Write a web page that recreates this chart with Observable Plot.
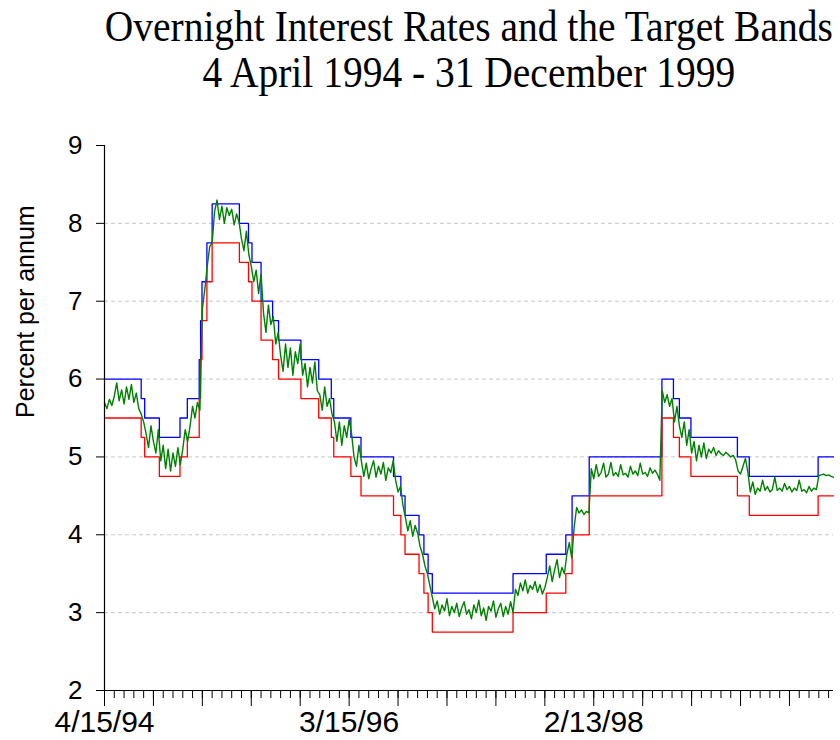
<!DOCTYPE html>
<html><head><meta charset="utf-8">
<script src="https://cdn.jsdelivr.net/npm/d3@7"></script>
<script src="https://cdn.jsdelivr.net/npm/@observablehq/plot@0.6"></script>
<style>
body{margin:0;background:#fff;overflow:hidden;}
#title{position:relative;width:840px;height:130px;overflow:hidden;font-family:"Liberation Serif","Times New Roman",serif;font-size:44px;line-height:46px;color:#000;}
#title .line{position:absolute;left:-131.5px;width:1200px;text-align:center;white-space:nowrap;}
#title .line span{display:inline-block;transform-origin:50% 50%;}
</style></head><body>
<div id="title"></div>
<div id="chart"></div>
<script>
const titleLines = ["Overnight Interest Rates and the Target Bands", "4 April 1994 - 31 December 1999"];
const yLabel = "Percent per annum";

// Target band changes (date the band took effect)
const bandDates = ["1994-04-15","1994-07-29","1994-08-08","1994-09-19","1994-11-17","1994-12-08",
  "1995-01-11","1995-01-15","1995-01-19","1995-02-02","1995-02-17","1995-05-06","1995-06-01",
  "1995-06-11","1995-07-07","1995-08-09","1995-08-26","1995-10-29","1995-12-19","1996-01-24",
  "1996-01-31","1996-03-20","1996-04-18","1996-07-20","1996-08-10","1996-08-22","1996-10-01",
  "1996-10-15","1996-10-27","1996-11-08","1997-06-27","1997-09-30","1997-11-25","1997-12-13",
  "1998-01-31","1998-08-27","1998-09-29","1998-10-16","1998-11-18","1999-03-31","1999-05-04",
  "1999-11-17","1999-12-31"];
const upperBand = [6.00,5.75,5.50,5.25,5.50,5.75,
  6.25,6.75,7.25,7.75,8.25,8.00,7.75,
  7.50,7.00,6.75,6.50,6.25,6.00,5.75,
  5.50,5.25,5.00,4.75,4.50,4.25,4.00,
  3.75,3.50,3.25,3.50,3.75,4.00,4.50,
  5.00,6.00,5.75,5.50,5.25,5.00,4.75,
  5.00,5.00];
const lowerBand = [5.50,5.25,5.00,4.75,5.00,5.25,
  5.75,6.25,6.75,7.25,7.75,7.50,7.25,
  7.00,6.50,6.25,6.00,5.75,5.50,5.25,
  5.00,4.75,4.50,4.25,4.00,3.75,3.50,
  3.25,3.00,2.75,3.00,3.25,3.50,4.00,
  4.50,5.50,5.25,5.00,4.75,4.50,4.25,
  4.50,4.50];

// Overnight rate, weekly readings starting 15 April 1994
const rateStart = "1994-04-15";
const rateStepDays = 7;
const overnightRate = [
  5.70,5.62,5.74,5.66,5.78,5.95,5.72,5.86,5.68,5.90,5.74,5.93,5.70,5.82,5.62,5.55,
  5.45,
  5.30,5.12,5.40,5.20,5.05,5.35,
  4.95,5.15,4.85,5.10,4.82,5.05,4.88,5.12,4.90,
  5.10,5.35,5.20,
  5.40,5.65,5.50,5.70,5.60,
  6.90,7.15,7.45,7.70,7.75,
  8.15,8.30,8.05,8.22,8.00,8.20,8.10,8.18,7.98,8.12,8.02,
  7.80,7.65,7.90,7.60,
  7.45,
  7.25,7.40,7.10,7.35,
  6.85,6.60,6.95,6.70,6.80,
  6.45,6.60,
  6.30,6.10,6.45,6.15,6.40,6.05,6.35,6.20,6.45,
  6.05,6.20,5.90,6.15,5.95,6.22,5.85,
  5.80,5.60,5.90,5.65,5.75,5.55,
  5.45,
  5.20,5.45,5.15,5.40,5.25,5.48,5.30,
  5.00,4.88,5.15,4.95,
  4.75,4.92,4.72,4.85,4.95,4.74,4.88,4.78,4.93,4.70,4.86,4.80,4.95,
  4.70,4.55,4.62,
  4.38,4.22,
  4.05,4.18,3.98,4.12,4.02,
  3.85,3.75,3.60,3.50,3.35,3.20,
  3.05,3.15,2.98,3.10,3.02,3.18,2.96,3.08,3.00,3.12,2.95,3.06,3.14,2.98,3.04,2.92,3.10,
  3.00,3.16,2.96,3.06,2.90,3.08,3.02,3.15,2.94,3.05,3.12,2.95,3.08,2.98,3.14,3.00,
  3.30,3.22,3.38,3.28,3.42,3.25,3.35,3.30,3.40,3.26,3.36,3.24,3.32,
  3.45,3.60,3.40,3.55,3.68,3.45,3.58,3.50,
  3.75,3.90,3.70,
  4.10,4.35,4.28,4.32,4.26,4.30,4.28,
  4.85,4.72,4.90,4.75,4.80,4.92,4.74,4.78,4.93,4.76,4.80,4.75,4.90,4.77,4.79,
  4.74,4.88,4.78,4.82,4.76,4.92,4.78,4.80,4.75,4.86,4.79,4.83,4.78,4.70,
  5.85,5.70,5.80,5.65,5.75,
  5.45,5.65,5.40,
  5.25,5.45,5.15,5.35,
  5.05,5.20,4.95,5.15,5.00,5.18,4.98,5.10,5.05,5.12,5.02,5.08,5.04,5.02,5.06,5.03,5.00,5.02,4.96,
  4.82,4.78,4.88,4.98,4.80,
  4.55,4.68,4.52,4.60,4.56,4.70,4.57,4.62,4.55,4.58,4.74,4.57,4.60,4.56,4.66,4.58,4.62,4.55,
  4.60,4.57,4.70,4.56,4.58,4.54,4.62,4.56,4.60,4.58,
  4.76,4.77,4.78,4.76,4.77,4.75,4.74
];

// Axis
const xStart = "1994-04-15", xEnd = "1999-12-31";
const xTickLabelDates = ["1994-04-15","1996-03-15","1998-02-13"];
const yTicks = [2,3,4,5,6,7,8,9];
const gridValues = [3,4,5,6,7,8];
const minorTickDays = 28, majorTickDays = 140;

const parse = d3.utcParse("%Y-%m-%d");
const bands = bandDates.map((d, i) => ({date: parse(d), upper: upperBand[i], lower: lowerBand[i]}));
const t0 = parse(rateStart);
const rate = overnightRate.map((v, i) => ({date: d3.utcDay.offset(t0, i * rateStepDays), value: v}));
const xDomain = [parse(xStart), parse(xEnd)];
const spanDays = d3.utcDay.count(xDomain[0], xDomain[1]);
const minorTicks = d3.range(0, spanDays + 1, minorTickDays).map(k => d3.utcDay.offset(xDomain[0], k));
const majorTicks = d3.range(0, spanDays + 1, majorTickDays).map(k => d3.utcDay.offset(xDomain[0], k));

// Title (condensed serif, centred over the plot area)
const title = document.getElementById("title");
titleLines.forEach((t, i) => {
  const line = document.createElement("div");
  line.className = "line";
  line.style.top = (4 + i * 46) + "px";
  const span = document.createElement("span");
  span.textContent = t;
  line.appendChild(span);
  title.appendChild(line);
});
const spans = title.querySelectorAll("span");
const k = 728 / spans[0].getBoundingClientRect().width;
spans.forEach(s => s.style.transform = `scaleX(${k})`);

const chart = Plot.plot({
  width: 840, height: 610,
  marginLeft: 104, marginRight: 7, marginTop: 15, marginBottom: 50,
  style: {fontFamily: "'Liberation Sans', Arial, sans-serif", background: "#fff", color: "#000", overflow: "visible"},
  x: {type: "utc", domain: xDomain},
  y: {domain: [2, 9]},
  marks: [
    Plot.ruleY(gridValues, {stroke: "#c8c8c8", strokeDasharray: "4,3"}),
    Plot.axisY({ticks: yTicks, tickSize: 8, tickPadding: 14, fontSize: 26, label: null, tickFormat: d => String(d)}),
    Plot.axisX({ticks: minorTicks, tickSize: 8, tickFormat: () => "", label: null}),
    Plot.axisX({ticks: majorTicks, tickSize: 16, tickFormat: () => "", label: null}),
    Plot.axisX({ticks: xTickLabelDates.map(parse), tickSize: 0, tickPadding: 20, fontSize: 30, tickFormat: d3.utcFormat("%-m/%-d/%y"), label: null}),
    Plot.line(bands, {x: "date", y: "upper", curve: "step-after", stroke: "#0000ff", strokeWidth: 1.3}),
    Plot.line(bands, {x: "date", y: "lower", curve: "step-after", stroke: "#ff0000", strokeWidth: 1.3}),
    Plot.line(rate, {x: "date", y: "value", stroke: "#008000", strokeWidth: 1.4}),
    Plot.ruleY([2], {stroke: "#000", strokeWidth: 1.2}),
    Plot.ruleX([xDomain[0]], {stroke: "#000", strokeWidth: 1.2}),
    Plot.text([yLabel], {frameAnchor: "left", dx: -79, rotate: -90, fontSize: 25, text: d => d})
  ]
});
document.getElementById("chart").appendChild(chart);
</script>
</body></html>
